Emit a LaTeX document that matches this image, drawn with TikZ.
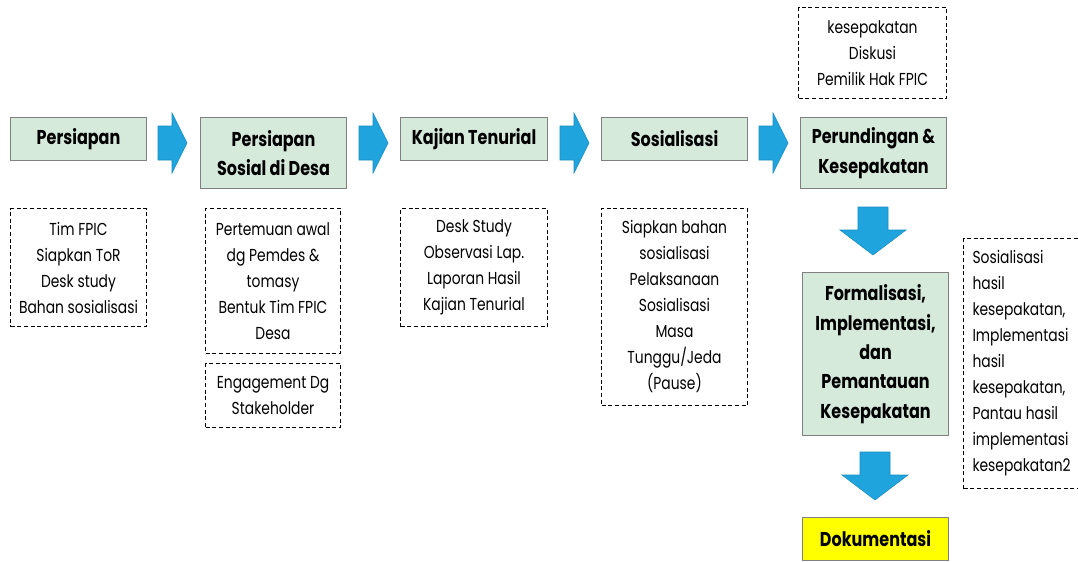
\documentclass[tikz,border=0pt]{standalone}
\usepackage{fontspec}
\setmainfont{Poppins}[FakeStretch=0.8]
\usetikzlibrary{calc}
\definecolor{boxgreen}{RGB}{214,234,220}
\definecolor{boxgray}{RGB}{128,128,128}
\definecolor{arrowblue}{RGB}{31,164,222}
\definecolor{arrowedge}{RGB}{26,140,192}
\definecolor{dokyellow}{RGB}{255,255,0}
\tikzset{
  headbox/.style={draw=boxgray, line width=0.8pt, fill=boxgreen, anchor=north west, align=center, inner sep=0pt,
     font=\fontsize{15pt}{22pt}\selectfont\bfseries},
  notebox/.style={draw=black, line width=0.75pt, dash pattern=on 3pt off 2pt, anchor=north west, align=center, inner sep=0pt,
     font=\fontsize{13pt}{19.5pt}\selectfont},
  blockarrow/.style={fill=arrowblue, draw=arrowedge, line width=0.4pt},
  pics/rarrow/.style={code={\path[blockarrow] (0,-17) -- (14,-17) -- (14,-30) -- (29,0) -- (14,30) -- (14,17) -- (0,17) -- cycle;}},
  pics/darrow/.style={code={\path[blockarrow] (-15,0) -- (15,0) -- (15,23) -- (33,23) -- (0,48) -- (-33,23) -- (-15,23) -- cycle;}}
}
\begin{document}
\begin{tikzpicture}[x=0.75pt,y=-0.75pt]
\useasboundingbox (0,0) rectangle (1078,561);
% heading boxes
\node[headbox, minimum width=102pt, minimum height=32.25pt] (persiapan) at (10,117) {Persiapan};
\node[headbox, minimum width=109.5pt, minimum height=53.25pt] (sosial) at (200,117) {Persiapan\\Sosial di Desa};
\node[headbox, minimum width=110.25pt, minimum height=32.25pt] (kajian) at (400,117) {Kajian Tenurial};
\node[headbox, minimum width=109.5pt, minimum height=32.25pt] (sosialisasi) at (601,117) {Sosialisasi};
\node[headbox, minimum width=109.5pt, minimum height=53.25pt] (perundingan) at (800,117) {Perundingan \&\\Kesepakatan};
\node[headbox, minimum width=109.5pt, minimum height=122.25pt] (formal) at (802,272) {Formalisasi,\\Implementasi,\\dan\\Pemantauan\\Kesepakatan};
\node[headbox, fill=dokyellow, minimum width=109.5pt, minimum height=32.25pt] (dok) at (802,517) {Dokumentasi};
% note boxes
\node[notebox, minimum width=102pt, minimum height=88.5pt] (tim) at (10,208) {Tim FPIC\\Siapkan ToR\\Desk study\\Bahan sosialisasi};
\node[notebox, minimum width=101.25pt, minimum height=108.75pt] (pertemuan) at (205,208) {Pertemuan awal\\dg Pemdes \&\\tomasy\\Bentuk Tim FPIC\\Desa};
\node[notebox, minimum width=101.25pt, minimum height=48pt] (engage) at (205,363) {Engagement Dg\\Stakeholder};
\node[notebox, minimum width=110.25pt, minimum height=88.5pt] (desk) at (400,208) {Desk Study\\Observasi Lap.\\Laporan Hasil\\Kajian Tenurial};
\node[notebox, minimum width=109.5pt, minimum height=147.75pt] (siapkan) at (601,208) {Siapkan bahan\\sosialisasi\\Pelaksanaan\\Sosialisasi\\Masa\\Tunggu/Jeda\\(Pause)};
\node[notebox, minimum width=111pt, minimum height=68.25pt] (diskusi) at (798,7) {kesepakatan\\Diskusi\\Pemilik Hak FPIC};
\node[notebox, align=flush left, text width=78pt, inner xsep=6.75pt, minimum height=187.5pt] (hasil) at (963,238) {Sosialisasi\\hasil\\kesepakatan,\\Implementasi\\hasil\\kesepakatan,\\Pantau hasil\\implementasi\\kesepakatan2};
% block arrows
\pic at (158,143) {rarrow};
\pic at (359,143) {rarrow};
\pic at (560,143) {rarrow};
\pic at (759,143) {rarrow};
\pic at (873,207) {darrow};
\pic at (875,452) {darrow};
\end{tikzpicture}
\end{document}
